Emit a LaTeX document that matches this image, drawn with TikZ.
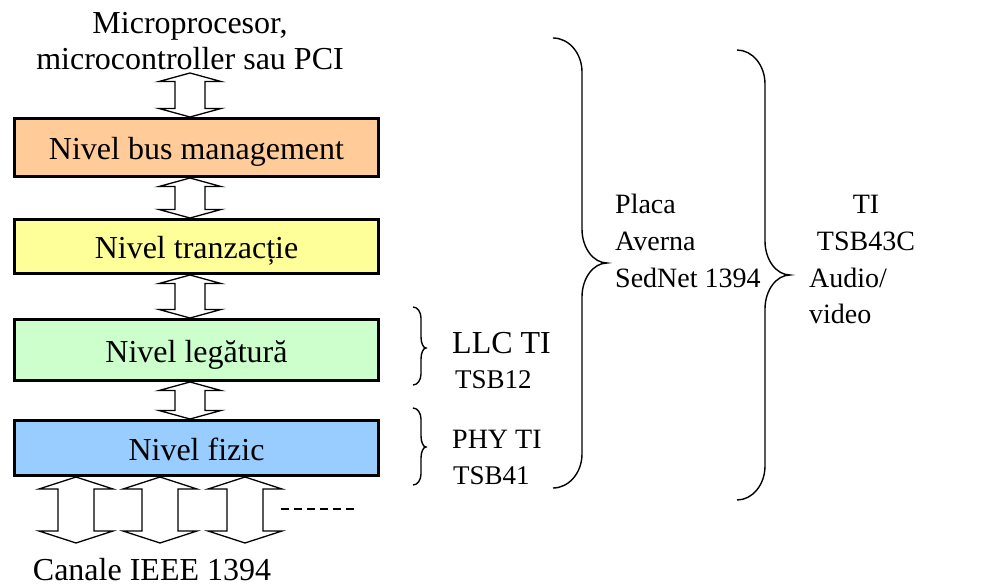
\documentclass[tikz,border=0pt]{standalone}
\usepackage{fontspec}
\setmainfont{Liberation Serif}
\usetikzlibrary{calc}
\definecolor{cOrange}{HTML}{FFCC99}
\definecolor{cYellow}{HTML}{FFFF99}
\definecolor{cGreen}{HTML}{CCFFCC}
\definecolor{cBlue}{HTML}{99CCFF}
\newcommand\blockarrow[5]{%
  \draw[blockarr] let \p1=(#1), \p2=(#2) in
   (\x1,\y1) -- (\x1+#3,\y1-#5) -- (\x1+#4,\y1-#5) -- (\x1+#4,\y2+#5) -- (\x1+#3,\y2+#5)
   -- (\x1,\y2) -- (\x1-#3,\y2+#5) -- (\x1-#4,\y2+#5) -- (\x1-#4,\y1-#5) -- (\x1-#3,\y1-#5) -- cycle;}
% #1 x end, #2 x spine, #3 x tip, #4 y top, #5 y tip, #6 y bottom, #7 corner radius (vertical)
\newcommand\mybrace[7]{%
  \draw[bracestyle]
   (#1,#4) .. controls ({#1+0.55*(#2-#1)},#4) and (#2,{#4+0.45*#7}) .. (#2,#4+#7)
   -- (#2,#5-#7) .. controls (#2,{#5-0.45*#7}) and ({#2+0.45*(#3-#2)},#5) .. (#3,#5)
   .. controls ({#2+0.45*(#3-#2)},#5) and (#2,{#5+0.45*#7}) .. (#2,#5+#7)
   -- (#2,#6-#7) .. controls (#2,{#6-0.45*#7}) and ({#1+0.55*(#2-#1)},#6) .. (#1,#6);}
\tikzset{
  layerbox/.style={draw, line width=3pt, minimum width=364pt, inner sep=0pt,
    text height=24pt, text depth=0pt, font=\fontsize{32}{36}\selectfont},
  blockarr/.style={draw, fill=white, line width=1.3pt, line join=miter},
  bracestyle/.style={draw, line width=1.4pt},
  big/.style={font=\fontsize{32}{36}\selectfont},
  mid/.style={font=\fontsize{28}{36.5}\selectfont},
}
\begin{document}
\begin{tikzpicture}[x=1pt,y=-1pt]
\useasboundingbox (0,0) rectangle (986,586);
% layers
\node[layerbox, fill=cOrange, minimum height=58pt] (b1) at (196.5,147.5) {Nivel bus management};
\node[layerbox, fill=cYellow, minimum height=54pt] (b2) at (196.5,246.5) {Nivel tranzacție};
\node[layerbox, fill=cGreen, minimum height=61pt] (b3) at (196.5,350) {Nivel legătură};
\node[layerbox, fill=cBlue, minimum height=55pt] (b4) at (196.5,448) {Nivel fizic};
% top text
\node[big, inner sep=0pt, anchor=base] (cpu1) at (190,33.5) {Microprocesor,};
\node[big, inner sep=0pt, anchor=base] (cpu2) at (190,70) {microcontroller sau PCI};
\coordinate (cpuarr) at (190,73);
% vertical double arrows
\blockarrow{cpuarr}{$(b1.north)+(-6.5,0)$}{31pt}{15pt}{8.5pt}
\blockarrow{$(b1.south)+(-6.5,0)$}{$(b2.north)+(-6.5,0)$}{31pt}{15pt}{8.5pt}
\blockarrow{$(b2.south)+(-6.5,0)$}{$(b3.north)+(-6.5,0)$}{31pt}{15pt}{8.5pt}
\blockarrow{$(b3.south)+(-6.5,0)$}{$(b4.north)+(-6.5,0)$}{31pt}{15pt}{8.5pt}
% channel arrows
\coordinate (ch1) at (76,543);
\coordinate (ch2) at (160,543);
\coordinate (ch3) at (245,543);
\blockarrow{b4.south -| ch1}{ch1}{37pt}{18pt}{12pt}
\blockarrow{b4.south -| ch2}{ch2}{37pt}{18pt}{12pt}
\blockarrow{b4.south -| ch3}{ch3}{37pt}{18pt}{12pt}
\coordinate (dA) at (281,509);
\coordinate (dB) at (356,509);
\draw[line width=1.3pt, dash pattern=on 8pt off 5pt] (dA) -- (dB);
\node[big, inner sep=0pt, anchor=base] (canale) at (152,580) {Canale IEEE 1394};
% braces
\mybrace{413}{421}{426}{307}{348}{385}{11}
\mybrace{413}{421}{426}{408}{447}{485}{11}
\mybrace{553}{582}{607}{38}{263}{488}{34}
\mybrace{737}{765}{790}{50}{275}{500}{34}
% labels
\node[big, inner sep=0pt, anchor=base west] (llc) at (452,353) {LLC TI};
\node[font=\fontsize{27}{30}\selectfont, inner sep=0pt, anchor=base west] (tsb12) at (455,388) {TSB12};
\node[mid, inner sep=0pt, anchor=base west] (phy) at (452,448) {PHY TI};
\node[font=\fontsize{27}{30}\selectfont, inner sep=0pt, anchor=base west] (tsb41) at (453,484) {TSB41};
\node[mid, inner sep=0pt, anchor=base west] (placa1) at (615,213) {Placa};
\node[mid, inner sep=0pt, anchor=base west] (placa2) at (615,250) {Averna};
\node[mid, inner sep=0pt, anchor=base west] (placa3) at (615,287) {SedNet 1394};
\node[mid, inner sep=0pt, anchor=base] (ti1) at (866,213) {TI};
\node[mid, inner sep=0pt, anchor=base] (ti2) at (866,250) {TSB43C};
\node[mid, inner sep=0pt, anchor=base west] (ti3) at (809,287) {Audio/};
\node[mid, inner sep=0pt, anchor=base west] (ti4) at (809,323) {video};
\end{tikzpicture}
\end{document}
